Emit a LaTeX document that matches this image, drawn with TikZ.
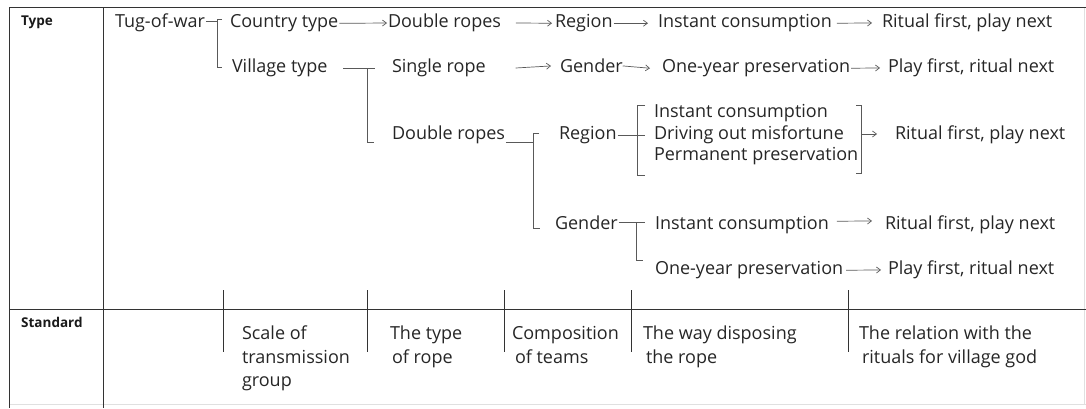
\documentclass[tikz,border=0pt]{standalone}
\usepackage{fontspec}
\setmainfont{Open Sans}
\usetikzlibrary{arrows.meta}
\begin{document}
\begin{tikzpicture}[x=1pt,y=-1pt,
  txt/.style={anchor=mid west,inner sep=0pt,outer sep=0pt,text=black!85,font=\fontsize{18}{20}\selectfont},
  hdr/.style={anchor=mid west,inner sep=0pt,text=black!90,font=\fontsize{13.5}{15}\selectfont\bfseries},
  rule/.style={draw=black!80,line width=0.9pt},
  faint/.style={draw=black!12,line width=0.8pt},
  tick/.style={draw=black!65,line width=0.7pt},
  arr/.style={draw=black!65,line width=0.7pt,-{Straight Barb[length=4pt,width=6pt]}}]
\useasboundingbox (0,0) rectangle (1086,408);
% table
\coordinate (tl) at (9,7);
\coordinate (tr) at (1086,7);
\coordinate (bl) at (9,408);
\coordinate (sep t) at (103,7);
\coordinate (sep b) at (103,408);
\coordinate (mid l) at (9,309);
\coordinate (mid r) at (1086,309);
\draw[faint] (9,404) -- (1086,404);
\draw[faint] (1084,7) -- (1084,404);
\draw[rule] (tr) -- (tl) -- (bl);
\draw[rule] (sep t) -- (sep b);
\draw[rule] (mid l) -- (mid r);
\node[hdr] (type) at (21,23) {Type};
\node[hdr] (standard) at (21,325) {Standard};
% row 1
\node[txt] (tug) at (115,25) {Tug-of-war};
\node[txt] (country) at (230,25) {Country type};
\node[txt] (dr1) at (388,25) {Double ropes};
\node[txt] (reg1) at (555,25) {Region};
\node[txt] (ic1) at (658,25) {Instant consumption};
\node[txt] (rf1) at (882,25) {Ritual first, play next};
% row 2
\node[txt] (village) at (232,70) {Village type};
\node[txt] (single) at (392,70) {Single rope};
\node[txt] (gen2) at (560,70) {Gender};
\node[txt] (oy2) at (662,70) {One-year preservation};
\node[txt] (pf2) at (888,70) {Play first, ritual next};
% row 3
\node[txt] (dr3) at (392,137) {Double ropes};
\node[txt] (reg3) at (559,137) {Region};
\node[txt] (ic3) at (654,115) {Instant consumption};
\node[txt] (dom) at (654,137) {Driving out misfortune};
\node[txt] (pp) at (654,158) {Permanent preservation};
\node[txt] (rf3) at (895,137) {Ritual first, play next};
% row 5/6
\node[txt] (gen5) at (555,227) {Gender};
\node[txt] (ic5) at (655,227) {Instant consumption};
\node[txt] (rf5) at (885,227) {Ritual first, play next};
\node[txt] (oy6) at (655,272) {One-year preservation};
\node[txt] (pf6) at (888,272) {Play first, ritual next};
% brackets
\coordinate (b1) at (217,21);
\draw[tick] ([xshift=1pt]tug.east |- b1) -- (b1);
\draw[tick] (222,19) -- (217,19) -- (217,67) -- (222,67);
\coordinate (b2) at (343,68);
\draw[tick] (b2) -- (375,68);
\draw[tick] (367,68) -- (367,142) -- (374,142);
\coordinate (b3) at (533,142);
\draw[tick] ([xshift=1pt]dr3.east |- b3) -- (b3);
\draw[tick] (539,133) -- (533,133) -- (533,228) -- (540,228);
\coordinate (b4) at (645,135);
\draw[tick] ([xshift=1pt]reg3.east |- b4) -- (b4);
\draw[tick] (645,105) -- (637,105) -- (637,175) -- (645,175);
\coordinate (b5) at (861,134);
\draw[tick] (856,105) -- (861,105) -- (861,173) -- (856,173);
\coordinate (b6) at (645,222);
\draw[tick] ([xshift=1pt]gen5.east |- b6) -- (b6);
\draw[tick] (636,222) -- (636,260) -- (643,260);
% arrows
\draw[arr] ([xshift=1pt]country.east) -- ([xshift=-1pt]dr1.west);
\draw[arr] ([xshift=15pt]dr1.east) -- ([xshift=-3pt]reg1.west);
\draw[arr] ([xshift=1pt]reg1.east) -- ([xshift=-10pt]ic1.west);
\draw[arr] ([xshift=5pt]ic1.east) -- ([xshift=-10pt]rf1.west);
\draw[arr] ([xshift=30pt]single.east) -- ([xshift=-9pt]gen2.west);
\draw[arr] ([xshift=0pt]gen2.east) -- ([xshift=-12pt]oy2.west);
\draw[arr] ([xshift=1pt]oy2.east) -- ([xshift=-8pt]pf2.west);
\draw[arr] (b5) -- ([xshift=-18pt]rf3.west |- b5);
\draw[arr] ([xshift=8pt,yshift=4pt]ic5.east) -- ([xshift=-13pt,yshift=4pt]rf5.west);
\draw[arr] ([xshift=3pt]oy6.east) -- ([xshift=-7pt]pf6.west);
% standard row
\foreach \x/\n in {223/s1,367/s2,504/s3,631/s4,848/s5}{
  \draw[rule,line width=0.8pt] (\x,290) coordinate (\n t) -- (\x,352) coordinate (\n b);
}
\node[txt] (c1a) at (242,337) {Scale of};
\node[txt] (c1b) at (242,361) {transmission};
\node[txt] (c1c) at (242,384) {group};
\node[txt] (c2a) at (390,337) {The type};
\node[txt] (c2b) at (392,361) {of rope};
\node[txt] (c3a) at (512,337) {Composition};
\node[txt] (c3b) at (515,361) {of teams};
\node[txt] (c4a) at (643,337) {The way disposing};
\node[txt] (c4b) at (646,361) {the rope};
\node[txt] (c5a) at (859,337) {The relation with the};
\node[txt] (c5b) at (862,361) {rituals for village god};
\end{tikzpicture}
\end{document}
